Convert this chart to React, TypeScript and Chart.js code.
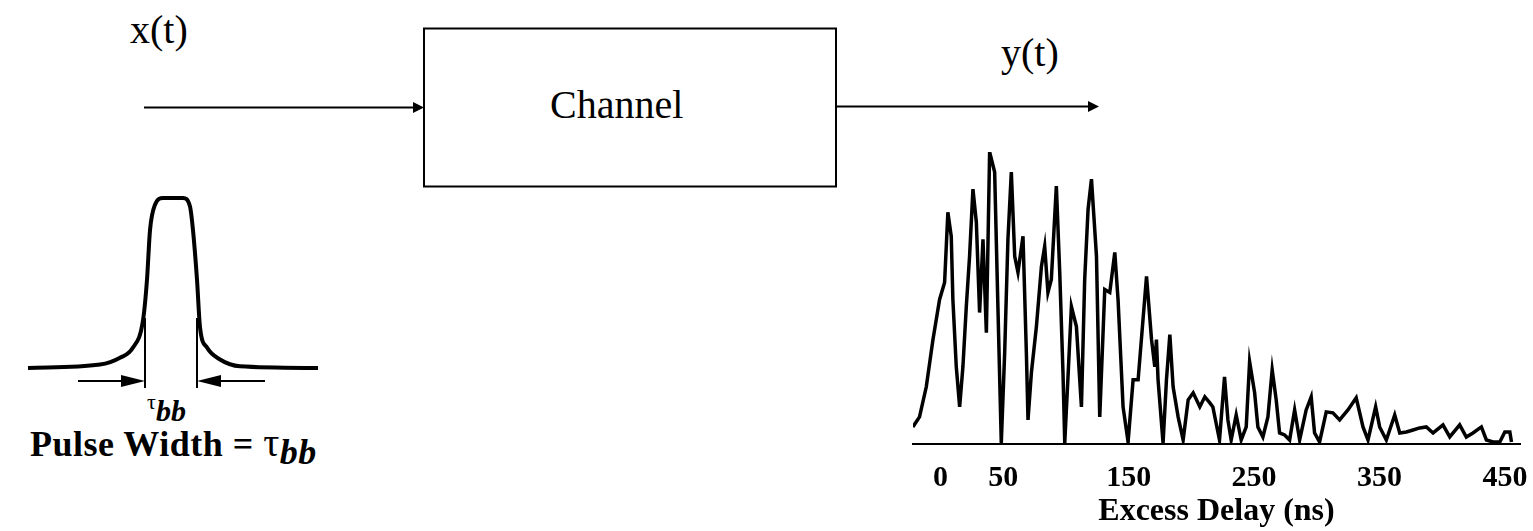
import React, { useEffect, useRef } from "react";
import { Chart, registerables } from "chart.js";

Chart.register(...registerables);

// Output impulse response y(t): excess delay (ns) vs relative amplitude
const delayNs = [
  -22.1, -16.8, -11.4, -6.1, -0.8, 3.2, 5.8, 8.5, 9.8, 12.5,
  15.2, 17.8, 20.5, 23.1, 25.8, 28.5, 31.1, 33.8, 36.5, 39.1,
  43.1, 45.7, 48.4, 51.1, 53.7, 56.4, 59.1, 61.7, 65.7, 68.4,
  69.7, 72.4, 76.4, 80.4, 83.0, 85.6, 88.3, 92.3, 95.0, 97.6,
  99.0, 101.6, 104.3, 108.3, 112.3, 114.9, 117.6, 120.3, 124.3, 126.9,
  130.9, 134.9, 138.9, 141.5, 145.5, 149.5, 153.5, 157.5, 164.2, 168.2,
  170.8, 172.1, 173.4, 177.4, 180.1, 182.8, 185.4, 189.4, 193.4, 197.4,
  201.4, 206.7, 210.7, 214.7,
  217.1, 222.4, 226.4, 229.1, 231.7, 235.7, 239.7, 243.7, 246.4, 250.4,
  253.0, 257.0, 261.0, 264.4, 267.6, 270.3, 274.3, 278.3, 282.3, 286.3,
  291.5, 295.5, 298.2, 302.2, 307.5, 312.8, 318.2, 324.8, 331.4, 336.8,
  340.8, 346.9, 350.1, 355.4, 362.1, 366.1, 371.4, 376.7, 382.0, 387.3,
  392.7, 400.6, 406.0, 413.9, 419.2, 424.5, 431.2, 435.2, 440.5, 445.9,
  449.9, 453.9, 455.2,
];
const amplitude = [
  17, 27, 57, 104, 144, 161, 231, 207, 144, 77,
  37, 77, 137, 187, 254, 221, 131, 204, 111, 291,
  271, 137, 1, 91, 204, 271, 187, 171, 207, 91,
  24, 71, 117, 177, 197, 151, 164, 257, 171, 71,
  1, 67, 137, 117, 37, 164, 234, 264, 187, 27,
  154, 151, 191, 144, 37, 2, 64, 64, 167, 104,
  77, 104, 64, 1, 64, 109, 57, 27, 4, 44,
  51, 37, 47, 41,
  37, 4, 67, 24, 4, 29, 4, 17, 82, 51,
  17, 7, 27, 74, 44, 11, 9, 4, 34, 4,
  34, 47, 11, 2, 32, 31, 24, 34, 46, 17,
  4, 37, 17, 4, 29, 11, 12, 14, 16, 17,
  11, 19, 7, 19, 7, 11, 17, 4, 2, 2,
  12, 12, 2,
];
const delayTicks = [0, 50, 150, 250, 350, 450];
const delayTitle = "Excess Delay (ns)";

// Input pulse x(t): time (arbitrary) vs normalised amplitude
const pulseTime = [-14.5, -7.3, -5.3, -4.0, -3.0, -2.6, -2.3, -1.8, -1.0, 1.0, 1.7, 2.0, 2.4, 2.7, 3.4, 4.7, 6.7, 14.5];
const pulseAmp = [0, 0.02, 0.06, 0.12, 0.28, 0.52, 0.81, 0.96, 1, 1, 0.95, 0.81, 0.52, 0.24, 0.12, 0.05, 0.01, 0];

const SERIF = "'Liberation Serif', 'Times New Roman', serif";

function ResponseChart() {
  const ref = useRef<HTMLCanvasElement | null>(null);
  useEffect(() => {
    if (!ref.current) return;
    const chart = new Chart(ref.current, {
      type: "line",
      data: {
        datasets: [
          {
            data: delayNs.map((d, i) => ({ x: d, y: amplitude[i] })),
            borderColor: "#000",
            borderWidth: 3.5,
            pointRadius: 0,
            tension: 0,
            fill: false,
          },
        ],
      },
      options: {
        responsive: false,
        animation: false,
        layout: { padding: { left: 13, right: 13, top: 12, bottom: 3 } },
        plugins: { legend: { display: false }, tooltip: { enabled: false } },
        scales: {
          x: {
            type: "linear",
            min: -22,
            max: 462,
            grid: { display: false, drawTicks: false },
            border: { display: true, color: "#000", width: 2 },
            afterBuildTicks: (axis: any) => {
              axis.ticks = delayTicks.map((v) => ({ value: v }));
            },
            afterFit: (axis: any) => {
              axis.paddingLeft = 0;
              axis.paddingRight = 0;
            },
            ticks: {
              autoSkip: false,
              maxRotation: 0,
              padding: 16,
              color: "#000",
              font: { family: SERIF, size: 30, weight: "bold" },
            },
            title: {
              display: true,
              text: delayTitle,
              color: "#000",
              padding: { top: -16, bottom: 0 },
              font: { family: SERIF, size: 32, weight: "bold", lineHeight: 1 },
            },
          },
          y: { display: false, min: 0, max: 291 },
        },
      },
    });
    return () => chart.destroy();
  }, []);
  return (
    <canvas
      ref={ref}
      width={633}
      height={391}
      style={{ position: "absolute", left: 900, top: 140, width: 633, height: 391 }}
    />
  );
}

function PulseChart() {
  const ref = useRef<HTMLCanvasElement | null>(null);
  useEffect(() => {
    if (!ref.current) return;
    const chart = new Chart(ref.current, {
      type: "line",
      data: {
        datasets: [
          {
            data: pulseTime.map((t, i) => ({ x: t, y: pulseAmp[i] })),
            borderColor: "#000",
            borderWidth: 4,
            pointRadius: 0,
            cubicInterpolationMode: "monotone",
            fill: false,
            clip: 10,
          },
        ],
      },
      options: {
        responsive: false,
        animation: false,
        layout: { padding: { left: 8, right: 12, top: 18, bottom: 12 } },
        plugins: { legend: { display: false }, tooltip: { enabled: false } },
        scales: {
          x: { type: "linear", display: false, min: -14.5, max: 14.5 },
          y: { display: false, min: 0, max: 1 },
        },
      },
    });
    return () => chart.destroy();
  }, []);
  return (
    <canvas
      ref={ref}
      width={310}
      height={200}
      style={{ position: "absolute", left: 20, top: 180, width: 310, height: 200 }}
    />
  );
}

const text = (extra: React.CSSProperties): React.CSSProperties => ({
  position: "absolute",
  fontFamily: SERIF,
  color: "#000",
  lineHeight: 1,
  whiteSpace: "nowrap",
  ...extra,
});

export default function App() {
  return (
    <div
      style={{
        position: "absolute",
        left: 0,
        top: 0,
        width: 1533,
        height: 531,
        background: "#fff",
        overflow: "hidden",
      }}
    >
      <svg width={1533} height={531} style={{ position: "absolute", left: 0, top: 0 }}>
        {/* input arrow */}
        <line x1={144} y1={107.5} x2={416} y2={107.5} stroke="#000" strokeWidth={2} />
        <polygon points="413,102 424,107.5 413,113" fill="#000" />
        {/* channel box */}
        <rect x={424} y={28.5} width={412} height={158} fill="none" stroke="#000" strokeWidth={2} />
        {/* output arrow */}
        <line x1={836} y1={106.5} x2={1090} y2={106.5} stroke="#000" strokeWidth={2} />
        <polygon points="1088,101 1099,106.5 1088,112" fill="#000" />
        {/* pulse width markers */}
        <line x1={145} y1={318} x2={145} y2={388} stroke="#000" strokeWidth={2} />
        <line x1={197} y1={318} x2={197} y2={388} stroke="#000" strokeWidth={2} />
        <line x1={78} y1={381} x2={128} y2={381} stroke="#000" strokeWidth={2} />
        <polygon points="121,375 145,381 121,387" fill="#000" />
        <line x1={214} y1={381} x2={265} y2={381} stroke="#000" strokeWidth={2} />
        <polygon points="221,375 197,381 221,387" fill="#000" />
      </svg>

      <div style={text({ left: 130, top: 10, fontSize: 40 })}>x(t)</div>
      <div style={text({ left: 550, top: 85, fontSize: 40 })}>Channel</div>
      <div style={text({ left: 1001, top: 33, fontSize: 40 })}>y(t)</div>

      <PulseChart />
      <ResponseChart />

      <div style={text({ left: 147, top: 391, fontSize: 22 })}>τ</div>
      <div style={text({ left: 156, top: 396, fontSize: 30, fontWeight: "bold", fontStyle: "italic" })}>bb</div>

      <div style={text({ left: 30, top: 423, fontSize: 36, fontWeight: "bold", letterSpacing: 0.5 })}>
        Pulse Width ={" "}
        <span style={{ fontWeight: "normal", fontSize: 40 }}>τ</span>
        <span style={{ fontSize: 36, fontStyle: "italic", position: "relative", top: 8 }}>bb</span>
      </div>
    </div>
  );
}
